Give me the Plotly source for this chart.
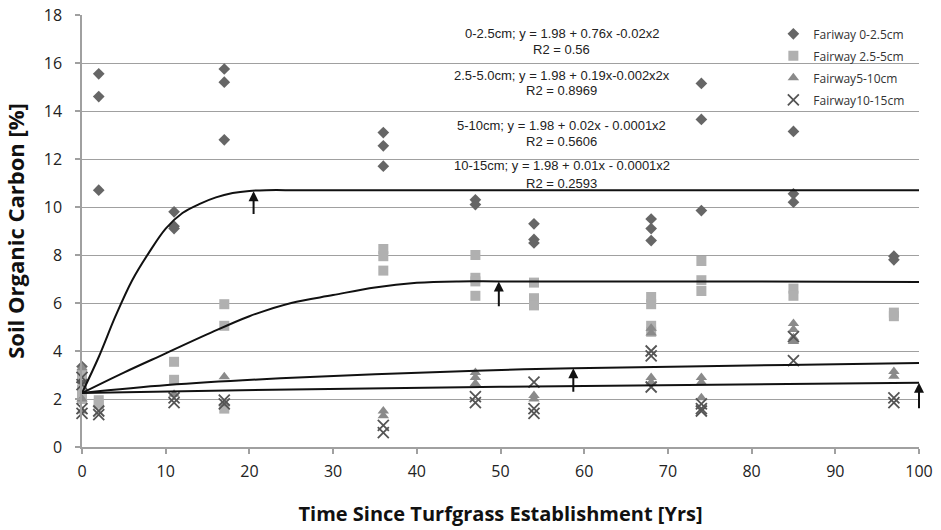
import plotly.graph_objects as go

# ---------------- data ----------------
# Fairway 0-2.5cm (diamonds)
x_d = [0, 0, 0, 2, 2, 2, 11, 11, 11, 17, 17, 17, 36, 36, 36, 47, 47,
       54, 54, 54, 68, 68, 68, 74, 74, 74, 85, 85, 85, 97, 97]
y_d = [3.35, 3.1, 2.7, 15.55, 14.6, 10.7, 9.8, 9.2, 9.1, 15.75, 15.2, 12.8,
       13.1, 12.55, 11.7, 10.3, 10.1, 9.3, 8.65, 8.5, 9.5, 9.1, 8.6,
       15.15, 13.65, 9.85, 13.15, 10.55, 10.2, 7.95, 7.8]

# Fairway 2.5-5cm (squares)
x_s = [0, 0, 0, 2, 2, 11, 11, 17, 17, 17, 36, 36, 36, 47, 47, 47, 47,
       54, 54, 54, 68, 68, 68, 68, 74, 74, 74, 85, 85, 97, 97]
y_s = [3.0, 2.4, 2.0, 1.95, 1.8, 3.55, 2.8, 5.95, 5.05, 1.6, 8.25, 7.95, 7.35,
       8.0, 7.05, 6.9, 6.3, 6.85, 6.2, 5.9, 6.25, 5.95, 5.05, 4.8,
       7.75, 6.95, 6.5, 6.6, 6.3, 5.6, 5.45]

# Fairway5-10cm (triangles)
x_t = [0, 0, 0, 11, 17, 17, 36, 36, 47, 47, 47, 54, 54, 68, 68, 68, 68,
       74, 74, 74, 85, 85, 85, 85, 97, 97]
y_t = [3.3, 2.0, 1.5, 2.2, 2.93, 1.8, 1.5, 1.3, 3.1, 2.9, 2.65, 2.15, 2.0,
       4.95, 4.75, 2.9, 2.7, 2.9, 2.7, 2.05, 5.15, 4.9, 4.55, 4.4, 3.15, 2.95]

# Fairway10-15cm (crosses)
x_x = [0, 0, 0, 0, 2, 2, 11, 11, 17, 17, 36, 36, 47, 47, 54, 54, 54,
       68, 68, 68, 74, 74, 74, 85, 85, 97, 97]
y_x = [2.9, 2.6, 1.6, 1.4, 1.5, 1.35, 2.05, 1.85, 1.95, 1.8, 0.9, 0.6,
       2.1, 1.85, 2.7, 1.6, 1.4, 4.0, 3.8, 2.5, 1.8, 1.6, 1.5, 4.6, 3.6, 2.05, 1.85]

# trend curves as drawn in the picture
tx1 = [0, 2, 4, 6, 8, 10, 12, 14, 16, 18, 20, 22, 26, 40, 100]
ty1 = [2.25, 3.75, 5.45, 6.95, 8.1, 9.1, 9.75, 10.12, 10.4, 10.58, 10.67, 10.7, 10.7, 10.7, 10.7]
tx2 = [0, 5, 10, 15, 20, 25, 30, 35, 40, 45, 50, 70, 100]
ty2 = [2.25, 3.1, 3.9, 4.7, 5.45, 6.0, 6.33, 6.65, 6.84, 6.9, 6.9, 6.9, 6.88]
tx3 = [0, 10.2, 23.7, 47.1, 58.7, 84.2, 100]
ty3 = [2.25, 2.58, 2.86, 3.18, 3.28, 3.42, 3.5]
tx4 = [0, 25, 50, 67, 84, 100]
ty4 = [2.25, 2.4, 2.51, 2.57, 2.63, 2.68]

# arrows marking where each curve levels off
arrow_x = [20.5, 49.8, 58.7, 100]
arrow_tip = [10.66, 6.9, 3.28, 2.68]
arrow_tail = [9.65, 5.8, 2.24, 1.55]

# equation labels
eq_lines = ["0-2.5cm; y = 1.98 + 0.76x -0.02x2", "R2 = 0.56",
            "2.5-5.0cm; y = 1.98 + 0.19x-0.002x2x", "R2 = 0.8969",
            "5-10cm; y = 1.98 + 0.02x - 0.0001x2", "R2 = 0.5606",
            "10-15cm; y = 1.98 + 0.01x - 0.0001x2", "R2 = 0.2593"]
eq_y = [17.25, 16.55, 15.5, 14.85, 13.4, 12.75, 11.75, 11.0]
eq_x = 57.3

legend_names = ["Fariway 0-2.5cm", "Fairway 2.5-5cm", "Fairway5-10cm", "Fairway10-15cm"]
x_ticks = [0, 10, 20, 30, 40, 50, 60, 70, 80, 90, 100]
y_ticks = [0, 2, 4, 6, 8, 10, 12, 14, 16, 18]

# ---------------- figure ----------------
fig = go.Figure()

fig.add_trace(go.Scatter(x=x_d, y=y_d, mode="markers", name=legend_names[0],
                         legendgroup="a",
                         marker=dict(symbol="diamond", size=9, color="#666666"),
                         cliponaxis=False))
fig.add_trace(go.Scatter(x=x_s, y=y_s, mode="markers", name=legend_names[1],
                         legendgroup="b",
                         marker=dict(symbol="square", size=10, color="#b0b0b0"),
                         cliponaxis=False))
fig.add_trace(go.Scatter(x=x_t, y=y_t, mode="markers", name=legend_names[2],
                         legendgroup="c",
                         marker=dict(symbol="triangle-up", size=10, color="#8a8a8a"),
                         cliponaxis=False))
fig.add_trace(go.Scatter(x=x_x, y=y_x, mode="markers", name=legend_names[3],
                         legendgroup="d",
                         marker=dict(symbol="x-thin", size=11, color="#555555",
                                     line=dict(width=1.8, color="#555555")),
                         cliponaxis=False))

for tx, ty, shp in [(tx1, ty1, "spline"), (tx2, ty2, "spline"),
                    (tx3, ty3, "spline"), (tx4, ty4, "linear")]:
    fig.add_trace(go.Scatter(x=tx, y=ty, mode="lines", showlegend=False,
                             line=dict(color="#111111", width=2, shape=shp,
                                       smoothing=1.0),
                             cliponaxis=False, hoverinfo="skip"))

for ax_, tip, tail in zip(arrow_x, arrow_tip, arrow_tail):
    fig.add_annotation(x=ax_, y=tip, ax=ax_, ay=tail, xref="x", yref="y",
                       axref="x", ayref="y", text="", showarrow=True,
                       arrowhead=2, arrowsize=1, arrowwidth=2, arrowcolor="#111111")

for t, yy in zip(eq_lines, eq_y):
    fig.add_annotation(x=eq_x, y=yy, xref="x", yref="y", text=t, showarrow=False,
                       font=dict(family="Liberation Sans, Arial", size=13, color="#222222"),
                       xanchor="center", yanchor="middle")

axis_font = dict(family="Open Sans", size=16, color="#222222")
fig.update_xaxes(range=[0, 100], tickvals=x_ticks, ticks="outside", ticklen=5,
                 tickcolor="#a0a0a0", tickwidth=1.5, showgrid=False,
                 showline=True, linecolor="#a0a0a0", linewidth=1.5,
                 zeroline=False, tickfont=axis_font, ticklabelstandoff=4,
                 automargin=False,
                 title=dict(text="Time Since Turfgrass Establishment [Yrs]",
                            font=dict(family="Open Sans", size=20, color="#111111",
                                      weight="bold"),
                            standoff=26))
fig.update_yaxes(range=[0, 18], tickvals=y_ticks, ticks="outside", ticklen=5,
                 tickcolor="#a0a0a0", tickwidth=1.5, showgrid=True,
                 gridcolor="#a0a0a0", gridwidth=1.3,
                 showline=True, linecolor="#a0a0a0", linewidth=1.5,
                 zeroline=False, tickfont=axis_font, ticklabelstandoff=10,
                 automargin=False,
                 title=dict(text="Soil Organic Carbon [%]",
                            font=dict(family="Open Sans", size=22, color="#111111",
                                      weight="bold"),
                            standoff=14))

fig.update_layout(
    width=941, height=530,
    margin=dict(l=82, r=22, t=15, b=83, autoexpand=False),
    paper_bgcolor="white", plot_bgcolor="white",
    legend=dict(x=0.826, y=0.99, xanchor="left", yanchor="top",
                bgcolor="rgba(0,0,0,0)", traceorder="grouped", tracegroupgap=3,
                font=dict(family="Open Sans", size=12, color="#333333")),
    showlegend=True,
)

fig.write_html("out.html", config={"displayModeBar": False},
               post_script="document.body.style.margin='0px';")
